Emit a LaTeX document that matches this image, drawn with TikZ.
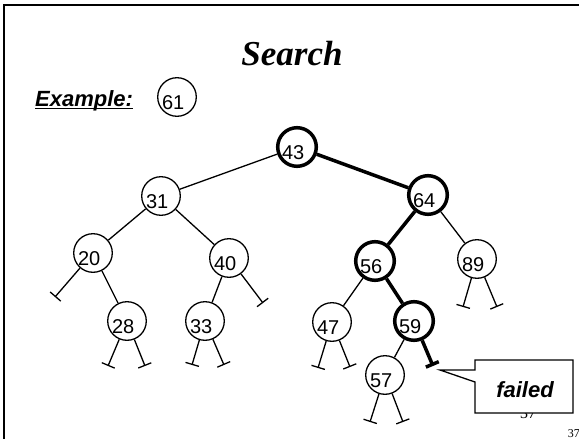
\documentclass[tikz,border=0pt]{standalone}
\usepackage{fontspec}
\setmainfont{Liberation Serif}
\setsansfont{Liberation Sans}
\usetikzlibrary{arrows.meta}

\begin{document}
\begin{tikzpicture}
  [
   x=1pt,y=-1pt,
   tn/.style={circle,draw,line width=1.3pt,inner sep=0pt,minimum size=38pt,
              text width=30pt,align=left,text height=24.4pt,text depth=0pt,
              font=\sffamily\fontsize{20}{24}\selectfont},
   hn/.style={tn,line width=3.5pt},
   ed/.style={line width=1.3pt},
   hed/.style={line width=3.5pt},
   nl/.style={ed,-{Bar[width=14pt]}},
   hnl/.style={hed,-{Bar[width=14pt]}}
  ]
   \useasboundingbox (0,0) rectangle (579,439);
   \draw[line width=2.3pt] (4,445) -- (4,5) -- (585,5);

   \node[font=\bfseries\itshape\fontsize{35}{40}\selectfont,anchor=base] (title) at (292,65) {Search};
   \node[font=\sffamily\bfseries\itshape\fontsize{22}{26}\selectfont,anchor=base west,inner sep=0pt] (ex) at (35,106) {Example:};
   \draw[line width=1.5pt] ([yshift=-2.5pt]ex.base west) -- ([yshift=-2.5pt]ex.base east);
   \node[tn] (key) at (177,97) {61};

   % tree
   \node[hn] (n43) at (297,147) {43};
   \node[tn] (n31) at (161,196) {31};
   \node[hn] (n64) at (428,195) {64};
   \node[tn] (n20) at (93,253) {20};
   \node[tn] (n40) at (229,258) {40};
   \node[hn] (n56) at (375,261) {56};
   \node[tn] (n89) at (477,259) {89};
   \node[tn] (n28) at (127,321) {28};
   \node[tn] (n33) at (205,321) {33};
   \node[tn] (n47) at (332,322) {47};
   \node[hn] (n59) at (414,321) {59};
   \node[tn] (n57) at (385,375) {57};

   \draw[ed] (n43) -- (n31);
   \draw[hed] (n43) -- (n64);
   \draw[ed] (n31) -- (n20);
   \draw[ed] (n31) -- (n40);
   \draw[ed] (n20) -- (n28);
   \draw[ed] (n40) -- (n33);
   \draw[hed] (n64) -- (n56);
   \draw[ed] (n64) -- (n89);
   \draw[ed] (n56) -- (n47);
   \draw[hed] (n56) -- (n59);
   \draw[ed] (n59) -- (n57);

   % empty subtrees
   \coordinate (e20a) at (55,297);
   \coordinate (e40b) at (263,303);
   \coordinate (e28a) at (108,366);
   \coordinate (e28b) at (145,366);
   \coordinate (e33a) at (192,365);
   \coordinate (e33b) at (224,365);
   \coordinate (e89a) at (463,307);
   \coordinate (e89b) at (497,307);
   \coordinate (e47a) at (318,368);
   \coordinate (e47b) at (350,367);
   \coordinate (e57a) at (370,422);
   \coordinate (e57b) at (403,422);
   \coordinate (e59b) at (433,366);

   \draw[nl] (n20) -- (e20a);
   \draw[nl] (n40) -- (e40b);
   \draw[nl] (n28) -- (e28a);
   \draw[nl] (n28) -- (e28b);
   \draw[nl] (n33) -- (e33a);
   \draw[nl] (n33) -- (e33b);
   \draw[nl] (n89) -- (e89a);
   \draw[nl] (n89) -- (e89b);
   \draw[nl] (n47) -- (e47a);
   \draw[nl] (n47) -- (e47b);
   \draw[nl] (n57) -- (e57a);
   \draw[nl] (n57) -- (e57b);
   \draw[hnl] (n59) -- (e59b);

   % page numbers and callout
   \node[font=\fontsize{16}{18}\selectfont,anchor=base] (pg1) at (528,418) {37};
   \draw[ed,fill=white] (475,360) -- (573,360) -- (573,413) -- (475,413) -- (475,382) -- (440,370) -- (475,370) -- cycle;
   \node[font=\sffamily\bfseries\itshape\fontsize{22}{26}\selectfont,anchor=base] (fl) at (525,397) {failed};
   \node[font=\fontsize{12}{14}\selectfont,anchor=base east,inner sep=0pt] (pg2) at (580,437) {37};

\end{tikzpicture}
\end{document}
